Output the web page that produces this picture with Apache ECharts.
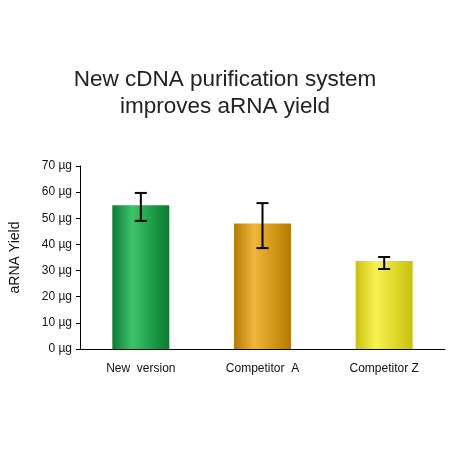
<!DOCTYPE html>
<html>
<head>
<meta charset="utf-8">
<script src="https://cdn.jsdelivr.net/npm/echarts@6/dist/echarts.min.js"></script>
<style>html,body{margin:0;padding:0;background:#fff}#c{width:450px;height:450px}</style>
</head>
<body>
<div id="c"></div>
<script>
var categories = ['New  version', 'Competitor  A', 'Competitor Z'];
var yields = [55, 48, 33.7];
var errLow = [49, 38.6, 30.6];
var errHigh = [59.7, 55.8, 35.2];
var barColors = [
    ['#0f7a35', '#3cc46a', '#17903f'],
    ['#b57a08', '#f0b53a', '#c98c10'],
    ['#c9c010', '#f7f250', '#d8d020']
];

var myChart = echarts.init(document.getElementById('c'));

function grad(c) {
    return new echarts.graphic.LinearGradient(0, 0, 1, 0, [
        {offset: 0, color: c[0]}, {offset: 0.35, color: c[1]},
        {offset: 0.8, color: c[2]}, {offset: 1, color: c[0]}
    ]);
}

var option = {
    animation: false,
    title: {
        text: 'New cDNA purification system\nimproves aRNA yield',
        left: 'center', top: 61,
        textStyle: {fontFamily: 'Liberation Sans', fontWeight: 'normal', fontSize: 22.5, color: '#222', lineHeight: 27}
    },
    grid: {left: 80, right: 5, top: 166, bottom: 101},
    xAxis: {
        type: 'category', data: categories,
        axisLine: {lineStyle: {color: '#000'}},
        axisTick: {show: false},
        axisLabel: {color: '#111', fontSize: 12, fontFamily: 'Liberation Sans', margin: 14}
    },
    yAxis: {
        type: 'value', min: 0, max: 70, interval: 10,
        name: 'aRNA Yield', nameLocation: 'middle', nameGap: 58, nameRotate: 90,
        nameTextStyle: {fontSize: 14, color: '#111', fontFamily: 'Liberation Sans'},
        axisLine: {show: true, lineStyle: {color: '#000'}},
        axisTick: {show: true, length: 4, inside: false},
        splitLine: {show: false},
        axisLabel: {formatter: '{value} µg', color: '#111', fontSize: 12, fontFamily: 'Liberation Sans'}
    },
    series: [{
        type: 'bar', barWidth: 57,
        data: yields.map(function (v, i) {
            return {value: v, itemStyle: {color: grad(barColors[i])}};
        })
    }, {
        type: 'custom',
        data: categories.map(function (c, i) { return [i, errLow[i], errHigh[i]]; }),
        renderItem: function (params, api) {
            var lo = api.coord([api.value(0), api.value(1)]);
            var hi = api.coord([api.value(0), api.value(2)]);
            var w = 6;
            var s = {stroke: '#000', lineWidth: 2};
            return {type: 'group', children: [
                {type: 'line', shape: {x1: lo[0], y1: lo[1], x2: hi[0], y2: hi[1]}, style: s},
                {type: 'line', shape: {x1: lo[0] - w, y1: lo[1], x2: lo[0] + w, y2: lo[1]}, style: s},
                {type: 'line', shape: {x1: hi[0] - w, y1: hi[1], x2: hi[0] + w, y2: hi[1]}, style: s}
            ]};
        },
        z: 5
    }]
};
myChart.setOption(option);
</script>
</body>
</html>
